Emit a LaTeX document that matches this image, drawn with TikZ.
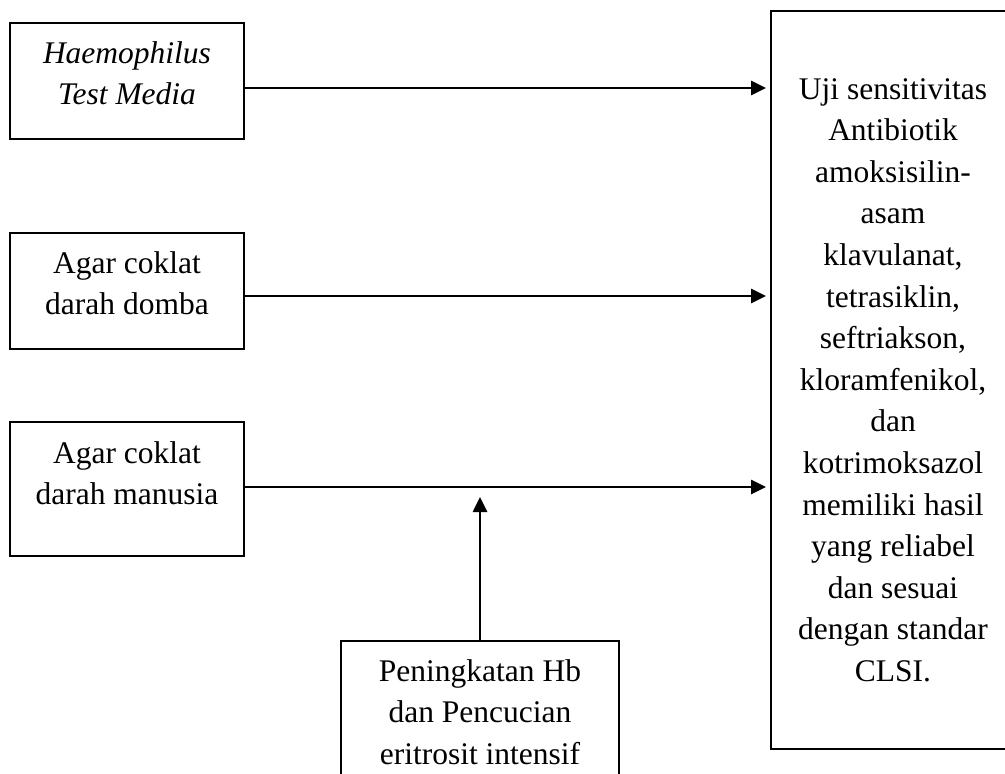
\documentclass[tikz,border=0pt]{standalone}
\usepackage{fontspec}
\setmainfont{Liberation Serif}
\usetikzlibrary{arrows.meta}
\begin{document}
\begin{tikzpicture}[x=1pt,y=-1pt,
	kotak/.style={draw,line width=1.8pt,inner sep=0pt},
	teks/.style={anchor=north,inner sep=0pt,align=center},
	panah/.style={line width=2.6pt,-{Triangle[length=15pt,width=14pt]}}]
	\useasboundingbox (0,0) rectangle (1005,774);
	\fontsize{31.5}{41.6}\selectfont
	\node[kotak,minimum width=234,minimum height=116] (htm) at (127,81) {};
	\node[kotak,minimum width=234,minimum height=116] (domba) at (127,291) {};
	\node[kotak,minimum width=234,minimum height=134] (manusia) at (127,489) {};
	\node[kotak,minimum width=278,minimum height=160] (hb) at (480,721) {};
	\node[inner sep=0pt,anchor=west,minimum width=244,minimum height=738] (uji) at (771,380) {};
	\draw[line width=1.8pt] ([xshift=20]uji.north east) -- (uji.north west) -- (uji.south west) -- ([xshift=20]uji.south east);
	\node[inner sep=0pt,align=center] (tuji) at (893,380)
		{Uji sensitivitas\\Antibiotik\\amoksisilin-\\asam\\klavulanat,\\tetrasiklin,\\seftriakson,\\kloramfenikol,\\dan\\kotrimoksazol\\memiliki hasil\\yang reliabel\\dan sesuai\\dengan standar\\CLSI.};
	\node[teks] (thtm) at ([yshift=-19]htm.north) {\itshape Haemophilus\\\itshape Test Media};
	\node[teks] (tdomba) at ([yshift=-19]domba.north) {Agar coklat\\darah domba};
	\node[teks] (tmanusia) at ([yshift=-20]manusia.north) {Agar coklat\\darah manusia};
	\node[teks] (thb) at ([yshift=-19]hb.north) {Peningkatan Hb\\dan Pencucian\\eritrosit intensif};
	\draw[panah,shorten >=5pt] ([yshift=-7]htm.east) -- ([yshift=-7]htm.east -| uji.west);
	\draw[panah,shorten >=5pt] ([yshift=-5]domba.east) -- ([yshift=-5]domba.east -| uji.west);
	\draw[panah,shorten >=5pt] ([yshift=2]manusia.east) coordinate (garis) -- (garis -| uji.west);
	\draw[panah,shorten >=10pt] (hb.north) -- (hb.north |- garis);
\end{tikzpicture}
\end{document}
